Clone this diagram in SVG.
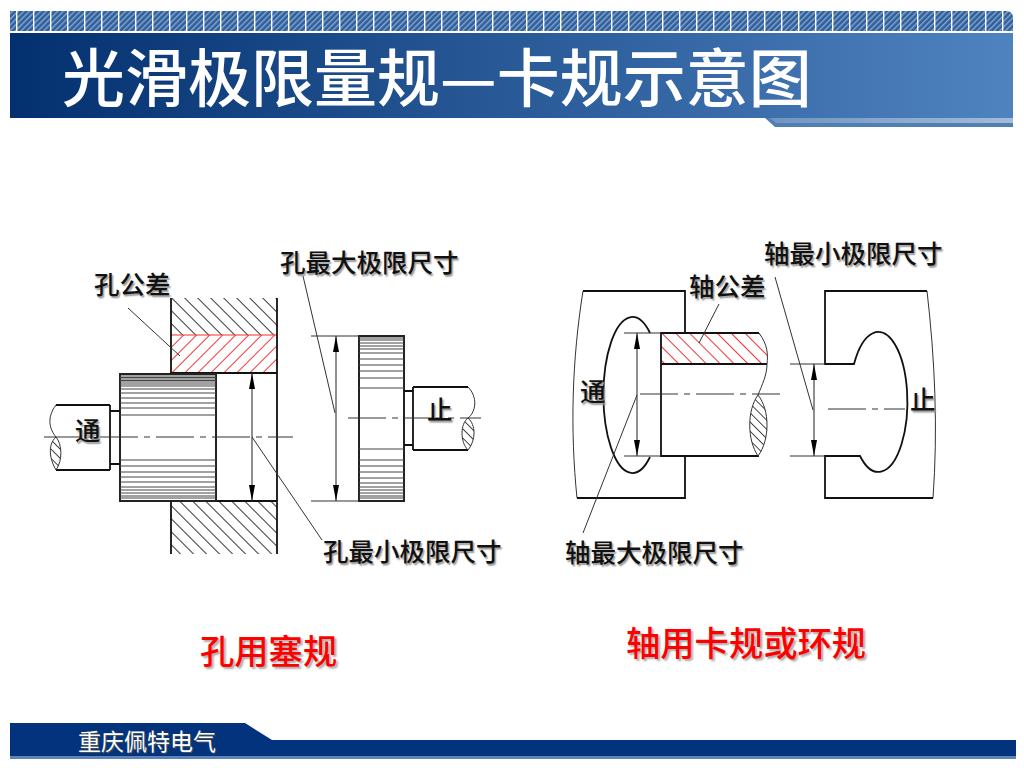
<svg xmlns="http://www.w3.org/2000/svg" width="1024" height="768" viewBox="0 0 1024 768">
<style>
text{font-family:"Noto Sans CJK SC","Liberation Sans",sans-serif}
.lb{font-size:25.500px;fill:#111;font-weight:500;text-shadow:1.5px 1.5px 1.5px #999}
.red{font-size:34.300px;fill:#f00;font-weight:500;text-shadow:2px 2px 2px #aaa}
.k{fill:none;stroke:#111;stroke-width:1.8}
.t{fill:none;stroke:#333;stroke-width:1}
.kn{fill:none;stroke:#444;stroke-width:1}
.cl{fill:none;stroke:#333;stroke-width:1;stroke-dasharray:38 6 6 6}
.dim{fill:none;stroke:#333;stroke-width:1.1;marker-start:url(#ar);marker-end:url(#ar)}
</style>
<defs>
<linearGradient id="hd" x1="0" x2="1" y1="0" y2="0"><stop offset="0" stop-color="#03306f"/><stop offset="1" stop-color="#4f83c0"/></linearGradient>
<linearGradient id="sp" x1="0" x2="1" y1="0" y2="0"><stop offset="0" stop-color="#6f95c0"/><stop offset="1" stop-color="#a3bcd8"/></linearGradient>
<pattern id="stripe" width="4" height="4" patternUnits="userSpaceOnUse" patternTransform="rotate(45)"><rect width="4" height="4" fill="#2c5f9f"/><rect width="1.400" height="4" fill="#8aa6c9"/></pattern>
<pattern id="sep" width="17" height="30" patternUnits="userSpaceOnUse" patternTransform="translate(-1 0)"><rect width="1.400" height="30" fill="#fff"/></pattern>
<pattern id="hb" width="9.200" height="9.200" patternUnits="userSpaceOnUse" patternTransform="translate(171 298) rotate(-45)"><rect width="1" height="9.200" fill="#333"/></pattern>
<pattern id="hb2" width="6.500" height="6.500" patternUnits="userSpaceOnUse" patternTransform="translate(750 395) rotate(-45)"><rect width="0.900" height="6.500" fill="#333"/></pattern>
<pattern id="hr" width="9.200" height="9.200" patternUnits="userSpaceOnUse" patternTransform="translate(171 373) rotate(45)"><rect width="1" height="9.200" fill="#e33"/></pattern>
<pattern id="hr2" width="9.800" height="9.800" patternUnits="userSpaceOnUse" patternTransform="translate(661 333) rotate(-45)"><rect width="1" height="9.800" fill="#e33"/></pattern>
<marker id="ar" markerUnits="userSpaceOnUse" markerWidth="16" markerHeight="6" refX="16" refY="3" orient="auto-start-reverse"><path d="M0 0L16 3L0 6Z" fill="#000"/></marker>
<clipPath id="lensA"><path d="M56 437C47 445 50 460 56 470C63 460 62 444 56 437Z"/></clipPath>
<clipPath id="lensB"><path d="M468 418C460 425 460 441 468 450C476 440 476 425 468 418Z"/></clipPath>
<clipPath id="lensC"><path d="M758 395C747 410 747 440 758 456C771 440 770 410 758 395Z"/></clipPath>
</defs>

<g id="header">
<path d="M10 11H1006Q1013 11 1013 18V31H10Z" fill="url(#stripe)"/>
<path d="M10 11H1006Q1013 11 1013 18V31H10Z" fill="url(#sep)"/>
<rect x="10" y="33" width="1003" height="85" fill="url(#hd)"/>
<path d="M765 118H1013V127H775Z" fill="#4f7fb5"/>
<path d="M770 118H1013V123H776Z" fill="url(#sp)"/>
<text x="62" y="101" font-size="63" fill="#fff" font-weight="500">光滑极限量规—卡规示意图</text>
</g>

<g id="hole-gauge">
<rect x="171" y="298" width="106" height="37" fill="url(#hb)"/>
<rect x="171" y="335" width="106" height="38" fill="url(#hr)"/>
<rect x="171" y="501" width="106" height="53" fill="url(#hb)"/>
<path d="M171 335H277" fill="none" stroke="#e33" stroke-width="1.200"/>
<path class="k" d="M171 298V373H277M277 298V554M171 554V501H277"/>
<path class="k" d="M216 373V501"/>
<rect x="120" y="374" width="96" height="127" fill="#fff" stroke="#222" stroke-width="2"/>
<path class="kn" d="M120 376H216M120 377.500H216M120 379H216M120 380.500H216M120 382H216M120 384H216M120 386H216M120 389H216M120 393H216M120 398H216M120 403H216M120 408H216M120 415H216M120 460H216M120 466H216M120 472H216M120 477H216M120 482H216M120 487H216M120 490H216M120 493H216M120 496H216M120 498H216"/>
<path class="k" d="M120 411H110M120 464H110M110 405V470M56 405H110M56 470H110"/>
<path class="t" d="M56 405C46 418 50 430 56 437C62 444 63 460 56 470C50 460 47 445 56 437"/>
<rect x="46" y="437" width="20" height="33" fill="url(#hb2)" clip-path="url(#lensA)"/>
<path class="cl" d="M44 437H293"/>
<path class="dim" d="M252 373V501"/>
<rect x="359" y="336" width="45" height="165" fill="#fff" stroke="#222" stroke-width="2"/>
<path class="kn" d="M359 338H404M359 340H404M359 343H404M359 346H404M359 349H404M359 353H404M359 359H404M359 365H404M359 371H404M359 378H404M359 388H404M359 449H404M359 460H404M359 466H404M359 472H404M359 478H404M359 483H404M359 487H404M359 490H404M359 493H404M359 496H404M359 498H404"/>
<path class="k" d="M404 391H413M404 445H413M413 387V450M413 387H468M413 450H468"/>
<path class="t" d="M468 387C478 397 476 412 468 418C460 424 460 442 468 450C476 440 476 425 468 418"/>
<rect x="458" y="418" width="20" height="32" fill="url(#hb2)" clip-path="url(#lensB)"/>
<path class="cl" d="M348 418H481"/>
<path class="t" d="M311 336H359M311 501H359"/>
<path class="dim" d="M336 336V501"/>
</g>

<g id="shaft-gauge">
<path class="t" d="M583 291C572 360 570 430 577 498"/>
<path class="k" d="M583 291H685V333M577 498H685V457" stroke-width="1.400"/>
<path class="k" d="M650 333A29 78 0 1 0 650 457"/>
<rect x="661" y="333" width="106" height="31" fill="url(#hr2)"/>
<path d="M759 333H775V364H767C768 350 766 343 759 333Z" fill="#fff"/>
<path class="k" d="M759 333H661V456H759M661 364H767"/>
<path class="t" d="M759 333C768 345 768 355 767 364C767 375 762 385 758 395C747 410 747 440 758 456M758 395C770 410 770 440 758 456"/>
<rect x="745" y="395" width="26" height="61" fill="url(#hb2)" clip-path="url(#lensC)"/>
<path class="cl" d="M640 394H780"/>
<path class="t" d="M624 333H661M624 456H661"/>
<path class="dim" d="M637 333V456"/>
<path class="t" d="M927 291C935 360 938 430 933 498"/>
<path class="k" d="M927 291H825V364H854A29 70 0 1 1 860 456H825V498H933"/>
<path class="cl" d="M828 409H905"/>
<path class="t" d="M790 364H825M790 456H825"/>
<path class="dim" d="M814 364V456"/>
</g>

<g id="connectors">
<path class="t" d="M128 308L180 356"/>
<path class="t" d="M303 276L335 413"/>
<path class="t" d="M252 437L322 540"/>
<path class="t" d="M719 304L699 343"/>
<path class="t" d="M637 395L583 533"/>
<path class="t" d="M775 277L813 410"/>
</g>

<g id="labels">
<text class="lb" x="94" y="294">孔公差</text>
<text class="lb" x="280" y="272">孔最大极限尺寸</text>
<text class="lb" x="323" y="561">孔最小极限尺寸</text>
<text class="lb" x="565" y="562">轴最大极限尺寸</text>
<text class="lb" x="764" y="263">轴最小极限尺寸</text>
<text class="lb" x="689" y="296">轴公差</text>
<text class="lb" x="75" y="440">通</text>
<text class="lb" x="427" y="419">止</text>
<text class="lb" x="580" y="401">通</text>
<text class="lb" x="910" y="409">止</text>
<text class="red" x="200" y="664">孔用塞规</text>
<text class="red" x="626" y="656">轴用卡规或环规</text>
</g>

<g id="footer">
<path d="M10 723H245L272 740H1016V756H10Z" fill="#03337c"/>
<rect x="10" y="756" width="1006" height="3" fill="#5b84b8"/>
<text x="78" y="750" font-size="23" fill="#fff" style="text-shadow:1px 1px 1px #555">重庆佩特电气</text>
</g>
</svg>
